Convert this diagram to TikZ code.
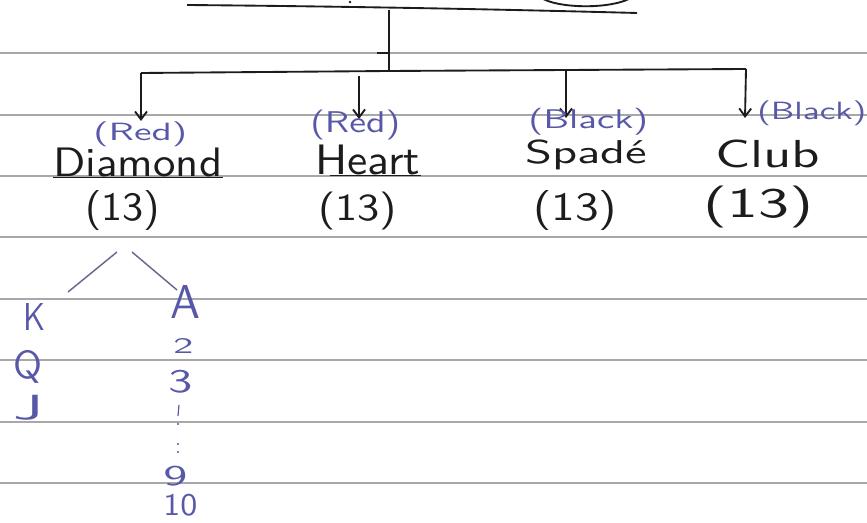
\documentclass[tikz,border=0pt]{standalone}
\usepackage{fontspec}
\usetikzlibrary{arrows.meta}
\newdimen\hpx \hpx=0.75pt
\newcommand{\handbox}[3]{\resizebox*{#1\hpx}{#2\hpx}{#3}}
\definecolor{inkblack}{RGB}{28,28,28}
\definecolor{inkblue}{RGB}{88,88,168}
\definecolor{rulegray}{RGB}{168,168,168}
\definecolor{diaggray}{RGB}{105,105,140}
\tikzset{
  ruled/.style={draw=rulegray, line width=1.6pt},
  ink/.style={draw=inkblack, line width=1.4pt},
  arr/.style={ink, -{Straight Barb[length=6pt,width=9pt]}},
  bluehand/.style={text=inkblue, inner sep=0pt, anchor=north west, font=\sffamily},
  blackhand/.style={text=inkblack, inner sep=0pt, anchor=north west, font=\sffamily},
  diag/.style={draw=diaggray, line width=1.1pt},
}
\begin{document}
\begin{tikzpicture}[x=0.75pt,y=-0.75pt]
\fill[white] (0,0) rectangle (867,523);
\useasboundingbox (0,0) rectangle (867,523);
% ruled paper lines
\foreach \yy in {53,115,176,237,299,360,422,483}
  \draw[ruled] (0,\yy) -- (867,\yy);
% cut-off handwriting at the top
\draw[ink] (187,5) .. controls (300,6) and (450,8) .. (637,13);
\draw[ink] (540,-3) .. controls (556,9) and (615,10) .. (634,-4);
\fill[inkblack] (350,2) circle (1.3);
% tree connectors
\coordinate (top) at (389,10);
\coordinate (hub) at (389,71);
\coordinate (bl) at (141,73);
\coordinate (br) at (746,69);
\coordinate (hs) at (359,76);
\coordinate (ss) at (566,70);
\coordinate (td) at (141,121);
\coordinate (th) at (359,119);
\coordinate (ts) at (566,118);
\coordinate (tc) at (745,118);
\draw[ink] (top) -- (hub);
\draw[ink] (377,53) -- (389,53);
\draw[ink] (377,71) -- (389,71);
\draw[ink] (bl) -- (hub) -- (br);
\draw[arr] (bl) -- (td);
\draw[arr] (hs) -- (th);
\draw[arr] (ss) -- (ts);
\draw[arr] (br) -- (tc);
% colour labels
\node[bluehand] (rd) at (93,121) {\handbox{94}{25}{(Red)}};
\node[bluehand] (rh) at (310,110) {\handbox{90}{30}{(Red)}};
\node[bluehand] (bs) at (528,108) {\handbox{120}{27}{(Black)}};
\node[bluehand] (bc) at (757,100) {\handbox{109}{25}{(Black)}};
% suit names
\node[blackhand] (diamond) at (53,148) {\handbox{169}{29}{Diamond}};
\node[blackhand] (heart) at (315,145) {\handbox{105}{30}{Heart}};
\node[blackhand] (spade) at (525,140) {\handbox{122}{30}{Spadé}};
\node[blackhand] (club) at (715,140) {\handbox{105}{28}{Club}};
\draw[ink] (diamond.south west) -- (diamond.south east);
\draw[ink] ([xshift=11pt]heart.south west) -- (heart.south east);
% counts
\node[blackhand] (nd) at (85,190) {\handbox{75}{40}{(13)}};
\node[blackhand] (nh) at (318,192) {\handbox{79}{38}{(13)}};
\node[blackhand] (ns) at (533,190) {\handbox{84}{40}{(13)}};
\node[blackhand] (nc) at (703,186) {\handbox{110}{42}{(13)}};
% split of the diamonds
\draw[diag] (117,252) -- (68,292);
\draw[diag] (132,252) -- (177,290);
\node[bluehand] (k) at (23,303) {\handbox{22}{27}{K}};
\node[bluehand] (q) at (13,350) {\handbox{29}{33}{Q}};
\node[bluehand] (j) at (13,395) {\handbox{30}{25}{J}};
\node[bluehand] (a) at (170,285) {\handbox{30}{33}{A}};
\node[bluehand] (two) at (173,338) {\handbox{20}{15}{2}};
\node[bluehand] (three) at (168,370) {\handbox{24}{23}{3}};
\draw[draw=inkblue, line width=0.9pt] (179,405) -- (178,416);
\fill[inkblue] (178,424) circle (1.2);
\fill[inkblue] (178,444) circle (1.2);
\fill[inkblue] (178,452) circle (1.2);
\node[bluehand] (nine) at (163,466) {\handbox{24}{20}{9}};
\node[bluehand] (ten) at (163,494) {\handbox{34}{22}{10}};
\end{tikzpicture}
\end{document}
